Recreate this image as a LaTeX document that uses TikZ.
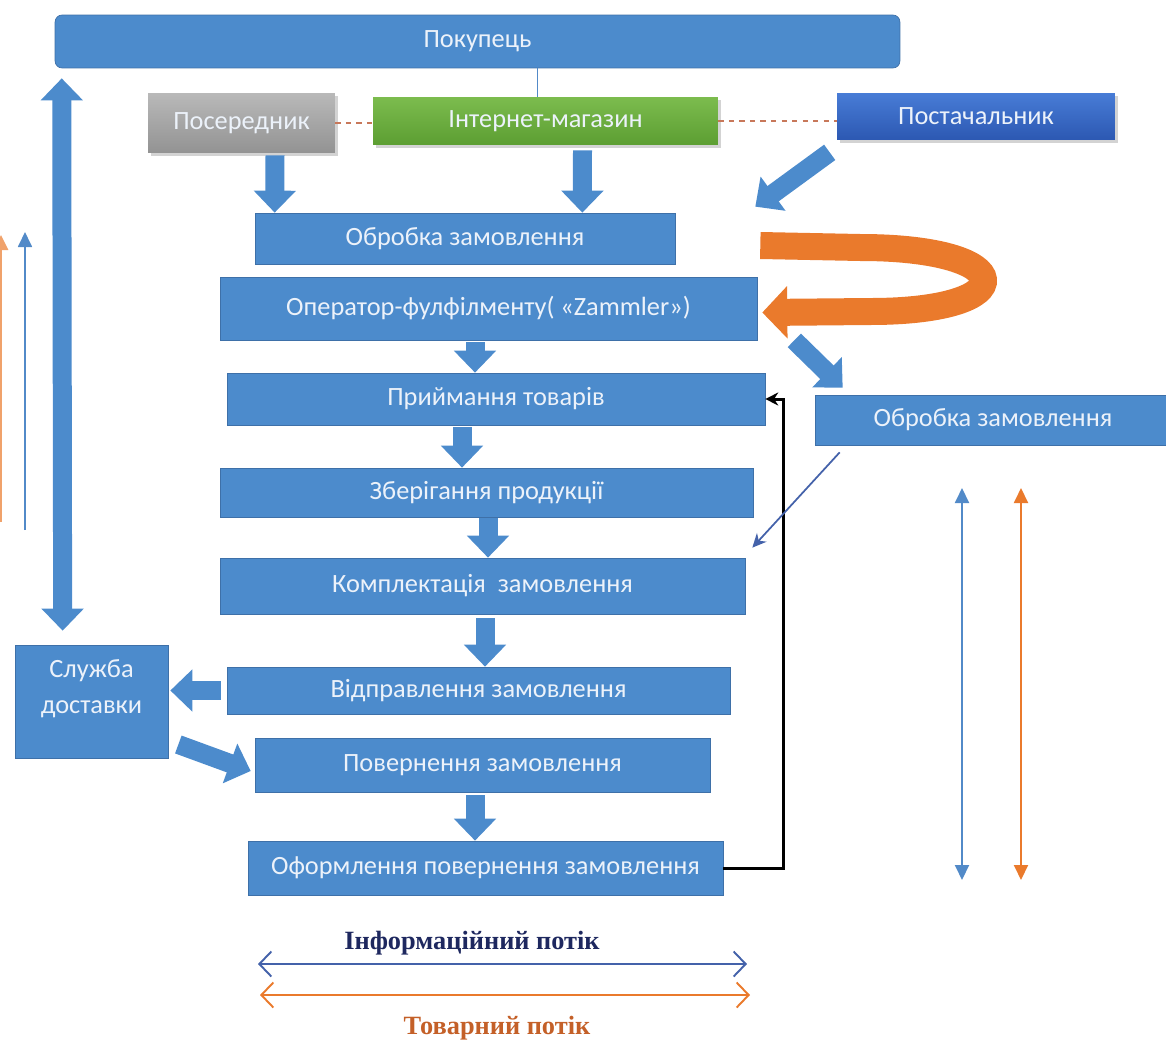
\documentclass[tikz,border=0pt]{standalone}
\usepackage{fontspec}
\setmainfont{Carlito}
\newfontfamily\legendfont{Liberation Serif}
\usetikzlibrary{arrows.meta,positioning,calc,shadows}
\definecolor{boxblue}{RGB}{76,139,204}
\definecolor{boxedge}{RGB}{62,112,168}
\definecolor{labelwhite}{RGB}{236,242,250}
\definecolor{flowblue}{RGB}{82,138,200}
\definecolor{floworange}{RGB}{234,122,44}
\definecolor{linkblue}{RGB}{68,98,170}
\definecolor{dashbrown}{RGB}{200,120,90}
\definecolor{infonavy}{RGB}{30,40,95}
\definecolor{goodsbrown}{RGB}{196,96,40}

\begin{document}
\begin{tikzpicture}[x=0.02cm, y=-0.02cm,
  box/.style={draw=boxedge, fill=boxblue, text=labelwhite, align=center, inner sep=0pt,
    font=\fontsize{15}{19}\selectfont},
  topbox/.style={box, draw=none, drop shadow={opacity=0.35, shadow xshift=1.5pt, shadow yshift=-1.5pt}},
  fatarr/.style={draw=boxblue, line width=0.38cm, -{Triangle[length=0.44cm, width=0.82cm]}},
  curl/.style={draw=floworange, line width=0.54cm, -{Triangle[length=0.5cm, width=1.02cm]}},
  feedback/.style={draw=black, line width=1.7pt, -{Stealth[length=2.6mm, width=2.6mm]}},
  link/.style={draw=linkblue, line width=1pt, -{Stealth[length=2.8mm, width=2.6mm]}},
  vflow/.style={line width=1.1pt, {Triangle[length=0.3cm, width=0.28cm]}-{Triangle[length=0.3cm, width=0.28cm]}},
  hflow/.style={line width=1.1pt, {Straight Barb[length=0.24cm, width=0.5cm]}-{Straight Barb[length=0.24cm, width=0.5cm]}},
  dashline/.style={draw=dashbrown, dashed, line width=0.6pt},
  legend/.style={font=\legendfont\bfseries\fontsize{15}{18}\selectfont}
]
  \useasboundingbox (0,0) rectangle (1166,1055);

  % participants
  \node[box, rounded corners=4pt, minimum width=16.9cm, minimum height=1.06cm] (buyer) at (477.5,41.5) {Покупець};
  \node[topbox, top color=gray!55, bottom color=gray!85, minimum width=3.74cm, minimum height=1.2cm] (agent) at (241.5,123) {Посередник};
  \node[topbox, top color={rgb,255:red,124;green,188;blue,78}, bottom color={rgb,255:red,92;green,158;blue,50}, minimum width=6.9cm, minimum height=0.96cm] (shop) at (545.5,121) {Інтернет-магазин};
  \node[topbox, top color={rgb,255:red,72;green,124;blue,214}, bottom color={rgb,255:red,44;green,88;blue,178}, minimum width=5.56cm, minimum height=0.94cm] (supplier) at (976,116.5) {Постачальник};

  % fulfilment chain
  \node[box, minimum width=8.4cm, minimum height=1.02cm] (order) at (465,238.5) {Обробка замовлення};
  \node[box, minimum width=10.74cm, minimum height=1.26cm] (operator) at (488.5,308.5) {Оператор-фулфілменту( «Zammler»)};
  \node[box, minimum width=10.76cm, minimum height=1.04cm] (receive) at (496,399) {Приймання товарів};
  \node[box, minimum width=7.12cm, minimum height=1cm] (order2) at (993,420) {Обробка замовлення};
  \node[box, minimum width=10.66cm, minimum height=0.98cm] (storage) at (486.5,492.5) {Зберігання продукції};
  \node[box, minimum width=10.5cm, minimum height=1.12cm] (picking) at (482.5,586) {Комплектація\ \ замовлення};
  \node[box, font=\fontsize{15}{20}\selectfont, text depth=0.6cm, minimum width=3.06cm, minimum height=2.26cm] (delivery) at (91.5,701.5) {Служба\\доставки};
  \node[box, minimum width=10.06cm, minimum height=0.94cm] (shipping) at (478.5,690.5) {Відправлення замовлення};
  \node[box, minimum width=9.1cm, minimum height=1.08cm] (return) at (482.5,765) {Повернення замовлення};
  \node[box, minimum width=9.5cm, minimum height=1.08cm] (returndoc) at (485.5,868) {Оформлення повернення замовлення};

  % legend
  \node[legend, text=infonavy] (infolbl) at (472,943) {Інформаційний потік};
  \node[legend, text=goodsbrown] (goodslbl) at (497,1028) {Товарний потік};
  \coordinate (infoL) at (258,964);
  \coordinate (infoR) at (747,964);
  \coordinate (goodsL) at (260,995);
  \coordinate (goodsR) at (750,995);
  \coordinate (infoT) at (962,488);
  \coordinate (infoB) at (962,880);
  \coordinate (goodsT) at (1021,488);
  \coordinate (goodsB) at (1021,880);
  \coordinate (leftinfoB) at (25,530);
  \coordinate (leftinfoT) at (25,232);
  \coordinate (leftgoodsB) at (1,522);
  \coordinate (leftgoodsT) at (1,235);

  % thin links
  \draw[draw=flowblue, line width=0.6pt] ($(shop.north)+(-8,0)$) -- ($(shop.north |- buyer.south)+(-8,0)$);
  \draw[dashline] (agent.east) -- (agent.east -| shop.west);
  \draw[dashline] (shop.east) -- (shop.east -| supplier.west);

  % block arrows
  \draw[fatarr] ($(agent.south)+(33.5,2)$) -- ($(order.north west)+(20,0)$);
  \draw[fatarr] ($(shop.south)+(37,5)$) -- ($(order.north east)+(-93,0)$);
  \draw[fatarr] ($(supplier.south west)+(-7,12)$) -- ($(order.north east)+(80,-6)$);
  \draw[fatarr] ($(operator.south)+(-13.5,2)$) -- ($(receive.north)+(-21,0)$);
  \draw[fatarr] ($(receive.south)+(-34,2)$) -- ($(storage.north)+(-24.5,0)$);
  \draw[fatarr] ($(storage.south)+(1.5,1)$) -- ($(picking.north)+(5.5,0)$);
  \draw[fatarr] ($(picking.south)+(2.5,4)$) -- ($(shipping.north)+(6.5,0)$);
  \draw[fatarr] ($(shipping.west)+(-6,0)$) -- ($(shipping.west -| delivery.east)+(2,0)$);
  \draw[fatarr] ($(delivery.east)+(10,43)$) -- ($(return.west)+(-4,6)$);
  \draw[fatarr] ($(return.south)+(-7.5,3)$) -- ($(returndoc.north)+(-10.5,0)$);
  \draw[fatarr] ($(operator.south east)+(37,0)$) -- ($(order2.north west)+(28,-7)$);
  \draw[fatarr, {Triangle[length=0.44cm, width=0.82cm]}-{Triangle[length=0.44cm, width=0.82cm]}]
    ($(buyer.south west)+(7,10)$) -- ($(delivery.north west)+(48,-14)$);

  % loop back to the operator
  \draw[curl] ($(order.east)+(85,7)$) -- ++(100,2)
    .. controls +(160,0) and +(155,0) .. ($(operator.east)+(113,3)$) -- ($(operator.east)+(5,4)$);

  \draw[feedback] (returndoc.east) -- ++(60,0) |- (receive.east);
  \draw[link] ($(order2.south west)+(25,7)$) -- ($(picking.north east)+(7,-10)$);

  % flows
  \draw[vflow, draw=flowblue, fill=flowblue] (infoT) -- (infoB);
  \draw[vflow, draw=floworange, fill=floworange] (goodsT) -- (goodsB);
  \draw[draw=flowblue, line width=1pt, -{Triangle[length=0.3cm, width=0.28cm]}] (leftinfoB) -- (leftinfoT);
  \draw[draw=floworange!70, line width=1.6pt, -{Triangle[length=0.3cm, width=0.28cm]}] (leftgoodsB) -- (leftgoodsT);
  \draw[hflow, draw=linkblue] (infoL) -- (infoR);
  \draw[hflow, draw=floworange] (goodsL) -- (goodsR);
\end{tikzpicture}
\end{document}
